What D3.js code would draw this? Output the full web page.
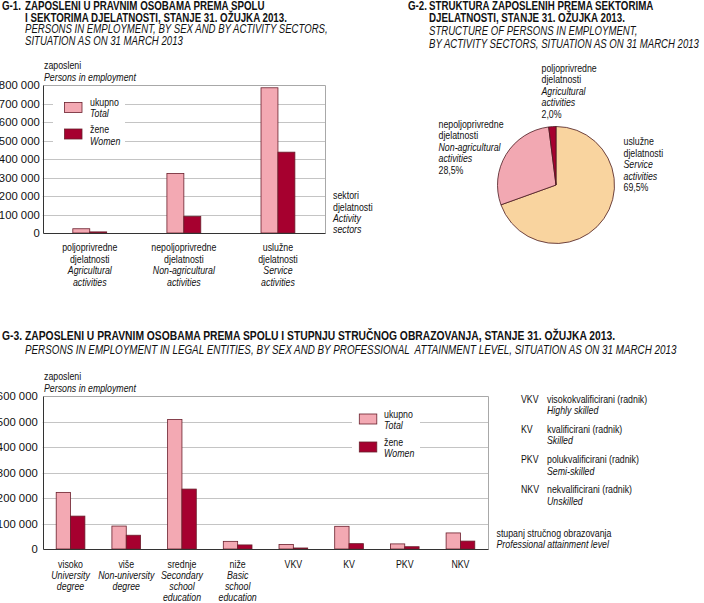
<!DOCTYPE html>
<html><head><meta charset="utf-8">
<script src="https://cdn.jsdelivr.net/npm/d3@7"></script>
<style>
body{margin:0;background:#fff}
svg{display:block}
text{font-family:'Liberation Sans',Arial,sans-serif;fill:#111;white-space:pre}
</style>
</head><body>
<svg id="c" width="704" height="603"></svg>
<script>
// ---------- DATA ----------
const g1SectorHr = [["poljoprivredne","djelatnosti"],["nepoljoprivredne","djelatnosti"],["uslužne","djelatnosti"]];
const g1SectorEn = [["Agricultural","activities"],["Non-agricultural","activities"],["Service","activities"]];
const g1Total = [23000, 322000, 785000];
const g1Women = [6000, 90000, 437000];
const g1Ticks = [0,100000,200000,300000,400000,500000,600000,700000,800000];

const g2Share = [2.0, 28.5, 69.5];          // agricultural, non-agricultural, service
const g2Labels = [
  ["poljoprivredne","djelatnosti","Agricultural","activities","2,0%"],
  ["nepoljoprivredne","djelatnosti","Non-agricultural","activities","28,5%"],
  ["uslužne","djelatnosti","Service","activities","69,5%"]
];

const g3LevelHr = ["visoko","više","srednje","niže","VKV","KV","PKV","NKV"];
const g3LevelEn = [["University","degree"],["Non-university","degree"],["Secondary","school","education"],["Basic","school","education"],[],[],[],[]];
const g3Total = [222000, 90000, 508000, 30000, 18000, 89000, 20000, 63000];
const g3Women = [129000, 54000, 235000, 16000, 4000, 21000, 9000, 31000];
const g3Ticks = [0,100000,200000,300000,400000,500000,600000];
const g3Abbr = [
  ["VKV","visokokvalificirani (radnik)","Highly skilled"],
  ["KV","kvalificirani (radnik)","Skilled"],
  ["PKV","polukvalificirani (radnik)","Semi-skilled"],
  ["NKV","nekvalificirani (radnik)","Unskilled"]
];

const seriesHr = ["ukupno","žene"];
const seriesEn = ["Total","Women"];

// ---------- STYLE ----------
const C_TOTAL = "#f3a9b3", C_WOMEN = "#a6002f", C_STROKE = "#6a1f2c";
const C_PIE = ["#a6002f", "#f2a8b2", "#f9d49f"];
const SX = 0.8;

const svg = d3.select("#c");
const fmt = v => d3.format(",")(v).replace(/,/g, " ");

function nt(parent, x, y, str, o = {}) {
  return parent.append("text")
    .attr("transform", `translate(${x},${y}) scale(${SX},1)`)
    .attr("font-size", o.size || 11)
    .attr("font-weight", o.bold ? "bold" : "normal")
    .attr("font-style", o.italic ? "italic" : "normal")
    .attr("text-anchor", o.anchor || "start")
    .text(str);
}

// ---------- TITLES ----------
function title(x0, x1, ys, lines, bs, is) {
  nt(svg, x0, ys[0], lines[0], {size: bs, bold: true});
  lines.slice(1).forEach((l, i) => {
    nt(svg, x1, ys[i], l.t, {size: l.italic ? is : bs, bold: !l.italic, italic: l.italic});
  });
}
title(2, 25, [10, 21.5, 33, 44.5], ["G-1.",
  {t: "ZAPOSLENI U PRAVNIM OSOBAMA PREMA SPOLU"},
  {t: "I SEKTORIMA DJELATNOSTI, STANJE 31. OŽUJKA 2013."},
  {t: "PERSONS IN EMPLOYMENT, BY SEX AND BY ACTIVITY SECTORS,", italic: true},
  {t: "SITUATION AS ON 31 MARCH 2013", italic: true}], 12.2, 12);
title(408, 429, [10, 22, 35, 48], ["G-2.",
  {t: "STRUKTURA ZAPOSLENIH PREMA SEKTORIMA"},
  {t: "DJELATNOSTI, STANJE 31. OŽUJKA 2013."},
  {t: "STRUCTURE OF PERSONS IN EMPLOYMENT,", italic: true},
  {t: "BY ACTIVITY SECTORS, SITUATION AS ON 31 MARCH 2013", italic: true}], 12.2, 12);
title(2, 25, [340, 354], ["G-3.",
  {t: "ZAPOSLENI U PRAVNIM OSOBAMA PREMA SPOLU I STUPNJU STRUČNOG OBRAZOVANJA, STANJE 31. OŽUJKA 2013."},
  {t: "PERSONS IN EMPLOYMENT IN LEGAL ENTITIES, BY SEX AND BY PROFESSIONAL  ATTAINMENT LEVEL, SITUATION AS ON 31 MARCH 2013", italic: true}], 12.9, 12.3);

// ---------- BAR CHART ----------
function barChart(cfg) {
  const g = svg.append("g");
  const n = cfg.total.length;
  const x = d3.scaleBand().domain(d3.range(n)).range([cfg.x0, cfg.x1])
    .paddingInner(cfg.pad).paddingOuter(cfg.pad / 2);
  const xs = d3.scaleBand().domain([0, 1]).range([0, x.bandwidth()]);
  const y = d3.scaleLinear().domain([0, d3.max(cfg.ticks)]).range([cfg.yBase, cfg.yTop]);

  // gridlines
  g.selectAll("line.grid").data(cfg.ticks.filter(t => t > 0 && t < d3.max(cfg.ticks)))
    .join("line").attr("class", "grid")
    .attr("x1", cfg.x0).attr("x2", cfg.x1)
    .attr("y1", d => Math.round(y(d)) + 0.5).attr("y2", d => Math.round(y(d)) + 0.5)
    .attr("stroke", "#c4c4c4").attr("stroke-width", 1);
  // frame
  const yt = Math.round(y(d3.max(cfg.ticks))) + 0.5, yb = Math.round(y(0)) + 0.5;
  const xl = Math.round(cfg.x0) + 0.5, xr = Math.round(cfg.x1) + 0.5;
  g.append("path").attr("d", `M${xl},${yt}H${xr}V${yb}`).attr("fill", "none").attr("stroke", "#a8a8a8");

  // legend box
  const L = cfg.legend;
  g.append("rect").attr("x", L.bx).attr("y", L.by).attr("width", L.bw).attr("height", L.bh).attr("fill", "#fff");
  [C_TOTAL, C_WOMEN].forEach((c, i) => {
    g.append("rect").attr("x", L.sx).attr("y", L.sy[i]).attr("width", L.sw).attr("height", L.sh)
      .attr("fill", c).attr("stroke", C_STROKE).attr("stroke-width", 0.8);
    nt(g, L.tx, L.ty[i][0], seriesHr[i]);
    nt(g, L.tx, L.ty[i][1], seriesEn[i], {italic: true});
  });

  // bars
  const series = [cfg.total, cfg.women];
  series.forEach((vals, s) => {
    g.selectAll(null).data(vals).join("rect")
      .attr("x", (d, i) => x(i) + xs(s))
      .attr("y", d => y(d))
      .attr("width", xs.bandwidth())
      .attr("height", d => y(0) - y(d))
      .attr("fill", s === 0 ? C_TOTAL : C_WOMEN)
      .attr("stroke", C_STROKE).attr("stroke-width", 0.8);
  });

  // axes lines
  g.append("path").attr("d", `M${xl},${yt}V${yb}H${xr}`).attr("fill", "none").attr("stroke", "#333");

  // y axis labels
  const ax = g.append("g").attr("transform", `translate(${cfg.x0},0)`)
    .call(d3.axisLeft(y).tickValues(cfg.ticks).tickSize(0).tickPadding(cfg.tickPad).tickFormat(fmt));
  ax.select(".domain").remove();
  ax.selectAll("text").attr("font-size", 11.3).attr("fill", "#111")
    .attr("font-family", "'Liberation Sans',Arial,sans-serif");

  // x labels
  cfg.labels.forEach((lines, i) => {
    const cx = x(i) + x.bandwidth() / 2;
    lines.forEach((l, k) => nt(g, cx, cfg.labY + k * cfg.labDy, l.t, {anchor: "middle", italic: l.it}));
  });
  return g;
}

barChart({
  total: g1Total, women: g1Women, ticks: g1Ticks,
  x0: 42.7, x1: 325, yBase: 233, yTop: 85, pad: 0.64, tickPad: 3,
  labY: 251, labDy: 11.5,
  labels: g1SectorHr.map((h, i) => h.map(t => ({t, it: false})).concat(g1SectorEn[i].map(t => ({t, it: true})))),
  legend: {bx: 53, by: 93, bw: 72, bh: 55, sx: 64.5, sy: [102.5, 129], sw: 17.5, sh: 10,
           tx: 90, ty: [[105.5, 116.5], [133, 144.5]]}
});

barChart({
  total: g3Total, women: g3Women, ticks: g3Ticks,
  x0: 42.7, x1: 488.3, yBase: 549, yTop: 396, pad: 0.485, tickPad: 5,
  labY: 567.5, labDy: 11.3,
  labels: g3LevelHr.map((h, i) => [{t: h, it: false}].concat(g3LevelEn[i].map(t => ({t, it: true})))),
  legend: {bx: 352, by: 406, bw: 68, bh: 54, sx: 359.3, sy: [414, 442], sw: 17.5, sh: 10,
           tx: 384, ty: [[417.5, 428.5], [446, 456.8]]}
});

// axis titles
nt(svg, 44, 68.5, "zaposleni");
nt(svg, 44, 80.5, "Persons in employment", {italic: true});
nt(svg, 333, 199, "sektori");
nt(svg, 333, 210.5, "djelatnosti");
nt(svg, 333, 221.5, "Activity", {italic: true});
nt(svg, 333, 232.5, "sectors", {italic: true});

nt(svg, 44, 380, "zaposleni");
nt(svg, 44, 391.5, "Persons in employment", {italic: true});
nt(svg, 496.5, 536.5, "stupanj stručnog obrazovanja");
nt(svg, 496.5, 547.5, "Professional attainment level", {italic: true});

g3Abbr.forEach((a, i) => {
  const yy = 402.5 + i * 30.3;
  nt(svg, 521, yy, a[0]);
  nt(svg, 547, yy, a[1]);
  nt(svg, 547, yy + 11.5, a[2], {italic: true});
});

// ---------- PIE ----------
const pieG = svg.append("g").attr("transform", "translate(556,185)");
const order = [2, 1, 0];   // clockwise from 12 o'clock: service, non-agricultural, agricultural
const pie = d3.pie().sort(null).value(i => g2Share[i]);
const arc = d3.arc().innerRadius(0).outerRadius(58.5);
pieG.selectAll("path").data(pie(order)).join("path")
  .attr("d", arc).attr("fill", d => C_PIE[d.data])
  .attr("stroke", "#4a1a20").attr("stroke-width", 0.8);

const pieLabPos = [[541.5, 71.7], [438.5, 127.5], [623.5, 145]];
g2Labels.forEach((lines, i) => {
  lines.forEach((t, k) => nt(svg, pieLabPos[i][0], pieLabPos[i][1] + k * 11.5, t, {italic: k === 2 || k === 3}));
});
</script>
</body></html>
